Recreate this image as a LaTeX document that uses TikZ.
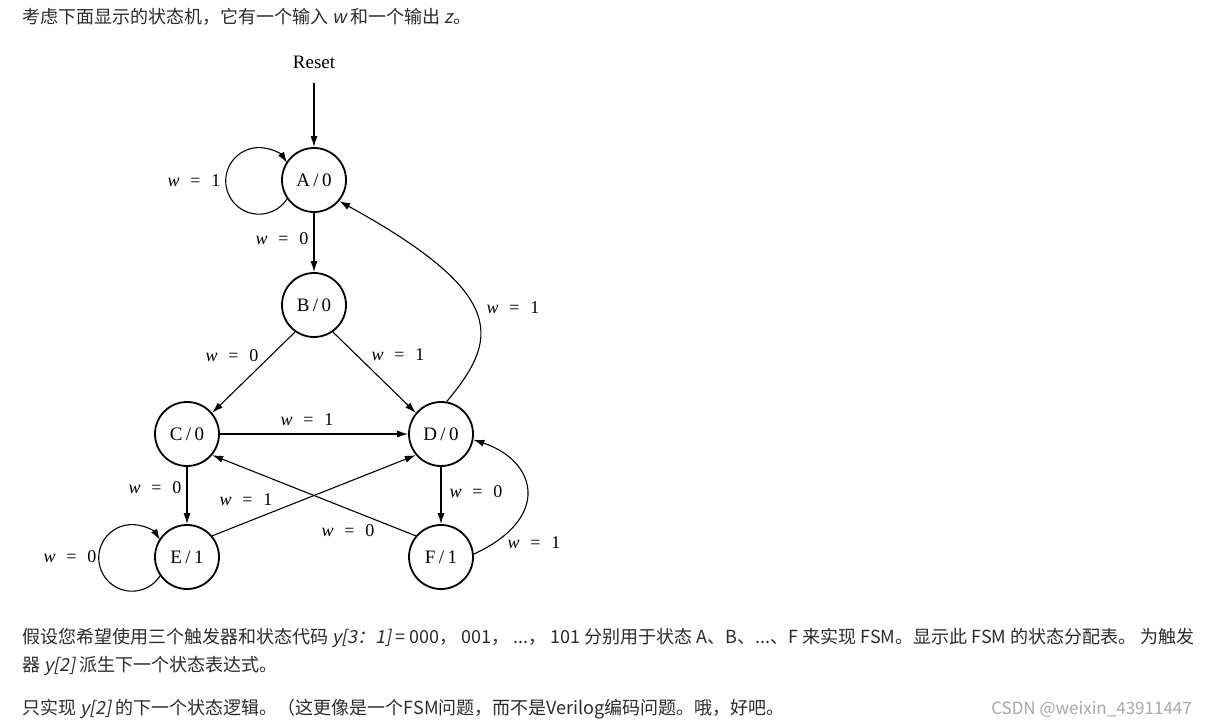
\documentclass[tikz,border=0pt]{standalone}
\usepackage{fontspec}
\usetikzlibrary{arrows.meta}
\setmainfont{Liberation Serif}
\newfontfamily\cjk{Noto Sans CJK SC}
\newfontfamily\cjkit{Noto Sans CJK SC}[FakeSlant=0.2]
\definecolor{txt}{HTML}{2B2B2B}
\definecolor{wmark}{HTML}{A8A8A8}
\newcommand\stlab[2]{#1\hspace{0.18em}/\hspace{0.18em}#2}
\newcommand\wl[1]{\textit{w}\hspace{0.6em}=\hspace{0.6em}#1}
\begin{document}
\begin{tikzpicture}[x=1pt,y=1pt,
  st/.style={circle,draw,line width=1.8pt,minimum size=64pt,inner sep=0pt,font=\fontsize{19}{19}\selectfont},
  tr/.style={-{Latex[length=11pt,width=7pt]},line width=1.1pt},
  lb/.style={font=\fontsize{18}{18}\selectfont,inner sep=1pt},
  para/.style={anchor=base west,inner sep=0pt,text=txt,font=\cjk\fontsize{18}{18}\selectfont}]
\useasboundingbox (0,0) rectangle (1207,726);
\fill[white] (0,0) rectangle (1207,726);
% text
\node[para] (t1) at (22,702) {考虑下面显示的状态机，它有一个输入 {\cjkit w} 和一个输出 {\cjkit z}。};
\node[para] (t2) at (22,83) {假设您希望使用三个触发器和状态代码 {\cjkit y[3：1]} = 000， 001， ...， 101 分别用于状态 A、B、...、F 来实现 FSM。显示此 FSM 的状态分配表。 为触发};
\node[para] (t3) at (22,55) {器 {\cjkit y[2]} 派生下一个状态表达式。};
\node[para] (t4) at (22,12) {只实现 {\cjkit y[2]} 的下一个状态逻辑。（这更像是一个FSM问题，而不是Verilog编码问题。哦，好吧。};
\node[anchor=base east,inner sep=0pt,text=wmark,font=\cjk\fontsize{17}{17}\selectfont] (wm) at (1192,12) {CSDN @weixin\_43911447};
% states
\node[st] (A) at (314,546) {\stlab{A}{0}};
\node[st] (B) at (314,421) {\stlab{B}{0}};
\node[st] (C) at (187,292) {\stlab{C}{0}};
\node[st] (D) at (441,292) {\stlab{D}{0}};
\node[st] (E) at (187,169) {\stlab{E}{1}};
\node[st] (F) at (441,169) {\stlab{F}{1}};
\node[font=\fontsize{19}{19}\selectfont] (R) at (314,664) {Reset};
\coordinate (r0) at (314,643);
% transitions
\draw[tr] (r0) -- (A);
\draw[tr] (A.-145) arc[start angle=-32.7,end angle=-327.3,radius=33.3];
\draw[tr] (A) -- (B);
\draw[tr] (B.235) -- (C.40);
\draw[tr] (B.-55) -- (D.140);
\draw[tr] (C) -- (D);
\draw[tr] (C) -- (E);
\draw[tr] (D) -- (F);
\draw[tr] (E.40) -- (D.220);
\draw[tr] (F.140) -- (C.-40);
\draw[tr] (E.-145) arc[start angle=-32.7,end angle=-327.3,radius=33.3];
\draw[tr] (D.80) .. controls (497,385) and (512,430) .. (A.-40);
\draw[tr] (F.5) .. controls (552,208) and (537,265) .. (D.-10);
% labels
\node[lb] (l1) at (194,545) {\wl{1}};
\node[lb] (l2) at (282,487) {\wl{0}};
\node[lb] (l3) at (232,370) {\wl{0}};
\node[lb] (l4) at (398,371) {\wl{1}};
\node[lb] (l5) at (307,306) {\wl{1}};
\node[lb] (l6) at (155,238) {\wl{0}};
\node[lb] (l7) at (246,226) {\wl{1}};
\node[lb] (l8) at (348,195) {\wl{0}};
\node[lb] (l9) at (476,234) {\wl{0}};
\node[lb] (l10) at (513,418) {\wl{1}};
\node[lb] (l11) at (534,183) {\wl{1}};
\node[lb] (l12) at (70,169) {\wl{0}};
\end{tikzpicture}
\end{document}
